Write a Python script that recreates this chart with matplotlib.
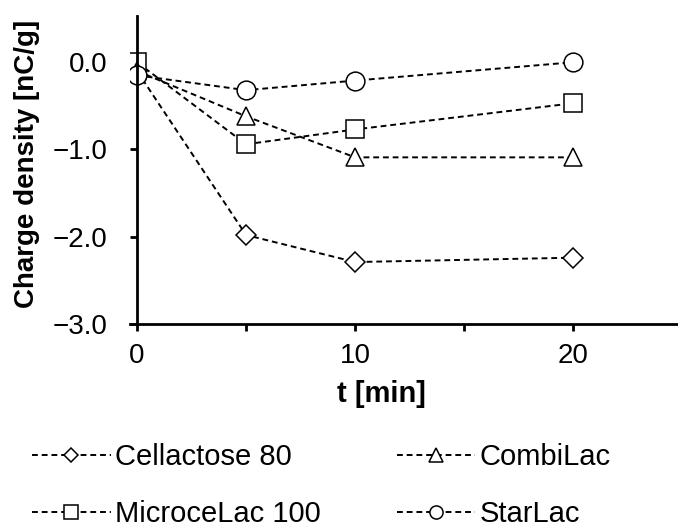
import matplotlib
matplotlib.use("Agg")
import matplotlib.pyplot as plt

plt.rcParams['font.family'] = ['Liberation Sans', 'DejaVu Sans']

t_min = [0, 5, 10, 20]
cellactose_80 = [-0.10, -1.98, -2.29, -2.24]
combilac = [-0.10, -0.62, -1.09, -1.09]
microcelac_100 = [0.00, -0.94, -0.77, -0.47]
starlac = [-0.15, -0.32, -0.21, 0.00]

series = [
    ("Cellactose 80", cellactose_80, "D", 10.5),
    ("MicroceLac 100", microcelac_100, "s", 13.5),
    ("CombiLac", combilac, "^", 13.5),
    ("StarLac", starlac, "o", 13.5),
]

fig = plt.figure(figsize=(6.78, 5.32), dpi=100)
ax = fig.add_axes([130 / 678, 1 - 324 / 532, 548 / 678, 308 / 532])

handles = []
for label, vals, mk, ms in series:
    ln, = ax.plot(t_min, vals, color='black', lw=1.4, dashes=(3.0, 2.0),
                  marker=mk, markersize=ms, markerfacecolor='white',
                  markeredgecolor='black', markeredgewidth=1.1, label=label)
    handles.append(ln)

ax.set_xlim(-0.32, 24.8)
ax.set_ylim(-3.0, 0.53)
ax.spines['left'].set_position(('data', 0))
ax.spines['right'].set_visible(False)
ax.spines['top'].set_visible(False)
for s in ('left', 'bottom'):
    ax.spines[s].set_linewidth(2.0)

ax.set_xticks([0, 10, 20])
ax.set_xticks([5, 15], minor=True)
ax.set_yticks([0.0, -1.0, -2.0, -3.0])
ax.set_yticklabels(['0.0', '\u22121.0', '\u22122.0', '\u22123.0'])
ax.tick_params(axis='both', which='both', direction='out', length=5, width=2)
ax.tick_params(axis='x', labelsize=20, pad=9)
ax.tick_params(axis='y', labelsize=20, pad=16)

ax.set_xlabel('t [min]', fontsize=21, fontweight='bold')
ax.set_ylabel('Charge density [nC/g]', fontsize=20, fontweight='bold')
ax.xaxis.set_label_coords(0.458, -0.182)
ax.yaxis.set_label_coords(-0.164, 0.52)

fig.legend(handles=handles, loc='upper left', bbox_to_anchor=(32 / 678, 1 - 443 / 532),
           ncol=2, frameon=False, fontsize=21, borderpad=0, borderaxespad=0,
           handlelength=2.7, handletextpad=0.15, columnspacing=2.6,
           labelspacing=1.0, markerscale=0.7)

fig.savefig('out.png', dpi=100)
